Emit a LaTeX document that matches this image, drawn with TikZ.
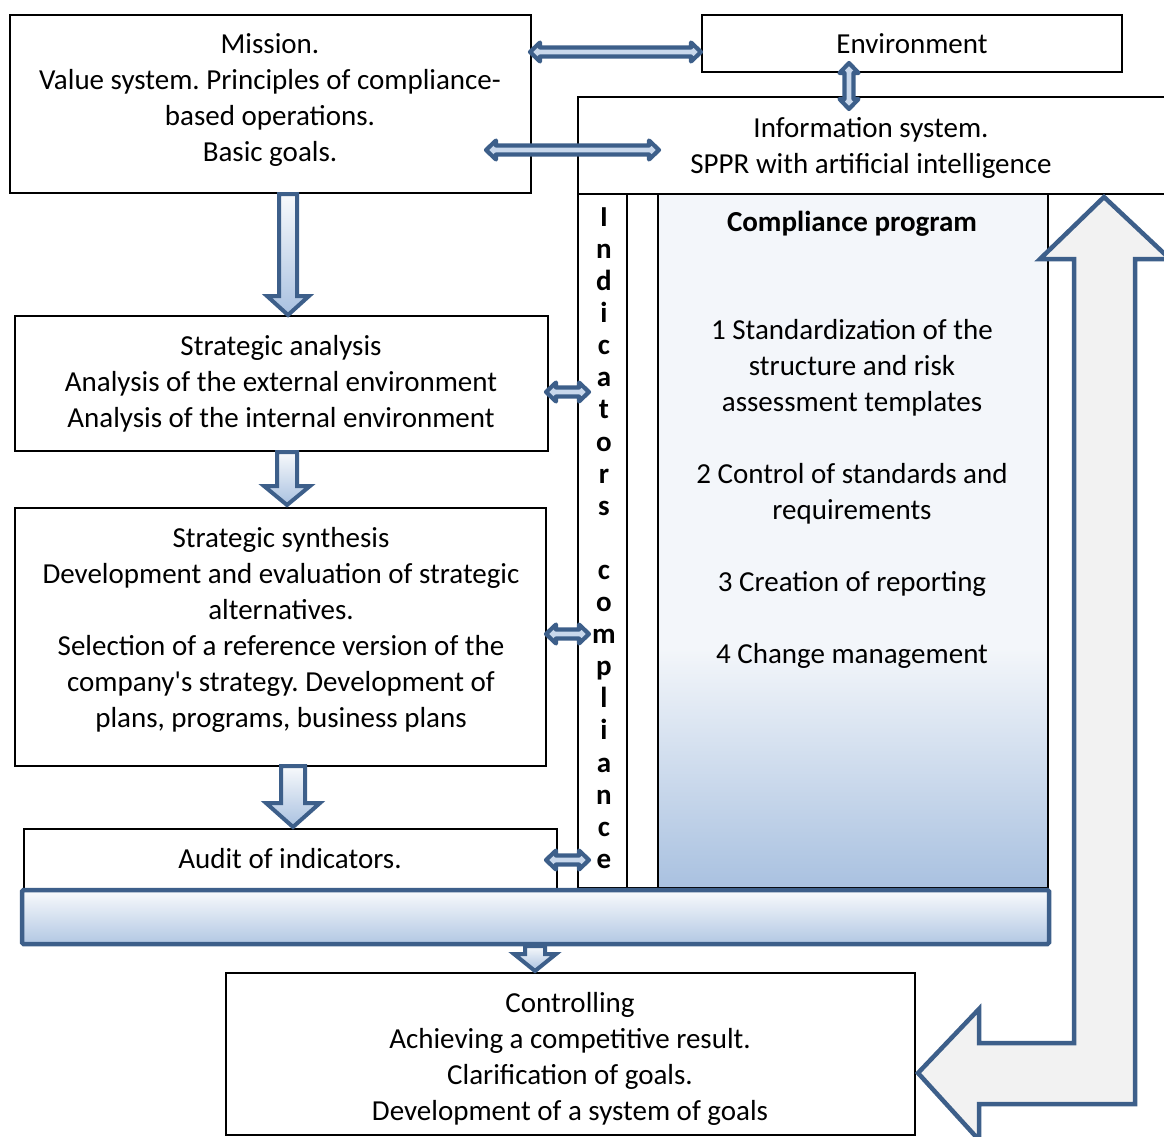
\documentclass[tikz,border=0pt]{standalone}
\usepackage{fontspec}
\setmainfont{Carlito}
\definecolor{ablue}{HTML}{3D5F8A}
\definecolor{pale}{HTML}{F3F6FA}
\definecolor{deep}{HTML}{A9C1E0}
\definecolor{dfill}{HTML}{C9D8EC}
\definecolor{lgray}{HTML}{F2F2F2}
% horizontal two-way block arrow: x1, x2, y
\newcommand\dblh[3]{%
  \draw[dbl] (#1,#3) -- (#1+10,#3-9.5) -- (#1+10,#3-4.5) -- (#2-10,#3-4.5) -- (#2-10,#3-9.5)
    -- (#2,#3) -- (#2-10,#3+9.5) -- (#2-10,#3+4.5) -- (#1+10,#3+4.5) -- (#1+10,#3+9.5) -- cycle;}
% vertical two-way block arrow: x, y1, y2
\newcommand\dblv[3]{%
  \draw[dbl] (#1,#2) -- (#1+9.5,#2+10) -- (#1+4.5,#2+10) -- (#1+4.5,#3-10) -- (#1+9.5,#3-10)
    -- (#1,#3) -- (#1-9.5,#3-10) -- (#1-4.5,#3-10) -- (#1-4.5,#2+10) -- (#1-9.5,#2+10) -- cycle;}
% downward block arrow: x, shaft top, head base, tip, shaft half width, head half width
\newcommand\blkdown[6]{%
  \draw[blk] (#1-#5,#2) -- (#1+#5,#2) -- (#1+#5,#3) -- (#1+#6,#3) -- (#1,#4)
    -- (#1-#6,#3) -- (#1-#5,#3) -- cycle;}
\begin{document}
\frenchspacing
\begin{tikzpicture}[x=1pt,y=-1pt,
  box/.style={draw=black,line width=1.3pt},
  txt/.style={align=center,inner sep=0pt,font=\fontsize{29}{36}\selectfont},
  dbl/.style={draw=ablue,line width=4.2pt,line join=round,fill=dfill},
  blk/.style={draw=ablue,line width=4pt,line join=miter,top color=pale!60!white,bottom color=deep},
]
\path[use as bounding box] (0,0) rectangle (1164,1137);
\clip (0,0) rectangle (1164,1137);

% information system and compliance columns
\draw[box] (578,97) rectangle (1170,194);
\draw[box] (578,194) rectangle (627,888);
\draw[box] (627,194) rectangle (658,888);
\fill[pale] (658,194) rectangle (1048,650);
\shade[top color=pale,bottom color=deep] (658,649) rectangle (1048,888);
\draw[box] (658,194) rectangle (1048,888);

% left-hand chain of boxes
\draw[box] (10,15) rectangle (531,193);
\draw[box] (702,15) rectangle (1122,72);
\draw[box] (15,316) rectangle (548,451);
\draw[box] (15,508) rectangle (546,766);
\draw[box] (24,829) rectangle (557,892);
\draw[box] (226,973) rectangle (915,1135);

% common bar collecting the results
\draw[draw=ablue,line width=4.5pt,rounded corners=1.5pt,top color=pale!50!white,bottom color=deep!90]
  (22,890) rectangle (1049,944);

% two-way links
\dblh{530}{701}{52}
\dblv{849}{63}{109}
\dblh{486}{659}{150}
\dblh{546}{589}{392}
\dblh{546}{589}{634}
\dblh{546}{589}{860}

% downward flow
\blkdown{288}{194}{296}{315}{9}{21}
\blkdown{287}{452}{486}{505}{10}{23}
\blkdown{293}{766}{803}{827}{12}{27}
\blkdown{535}{946}{954}{971}{10}{21}

% feedback arrow from controlling back up to the information system
\draw[draw=ablue,line width=4.5pt,line join=miter,fill=lgray]
  (1104,197) -- (1170,259) -- (1135,259) -- (1135,1104) -- (979,1104) -- (979,1140)
  -- (918,1073) -- (979,1009) -- (979,1043) -- (1074,1043) -- (1074,259) -- (1040,259) -- cycle;

% texts
\node[txt] (mission) at (270,100) {Mission.\\Value system. Principles of compliance-\\based operations.\\Basic goals.};
\node[txt,anchor=base] (env) at (912,54) {Environment};
\node[txt] (info) at (871,148) {Information system.\\SPPR with artificial intelligence};
\node[txt] (analysis) at (281,384) {Strategic analysis\\Analysis of the external environment\\Analysis of the internal environment};
\node[txt] (synthesis) at (281,630) {Strategic synthesis\\Development and evaluation of strategic\\alternatives.\\Selection of a reference version of the\\company\textquotesingle s strategy. Development of\\plans, programs, business plans};
\node[txt,anchor=base] (audit) at (290,868) {Audit of indicators.};
\node[txt] (control) at (570,1059) {Controlling\\Achieving a competitive result.\\Clarification of goals.\\Development of a system of goals};
\node[txt] (program) at (852,440) {\textbf{Compliance program}\\[72pt]1 Standardization of the\\structure and risk\\assessment templates\\[36pt]2 Control of standards and\\requirements\\[36pt]3 Creation of reporting\\[36pt]4 Change management};
\node[inner sep=0pt,align=center,font=\fontsize{29}{32.1}\selectfont\bfseries] (indic) at (604,538)
  {I\\n\\d\\i\\c\\a\\t\\o\\r\\s\\\mbox{}\\c\\o\\m\\p\\l\\i\\a\\n\\c\\e};
\end{tikzpicture}
\end{document}
